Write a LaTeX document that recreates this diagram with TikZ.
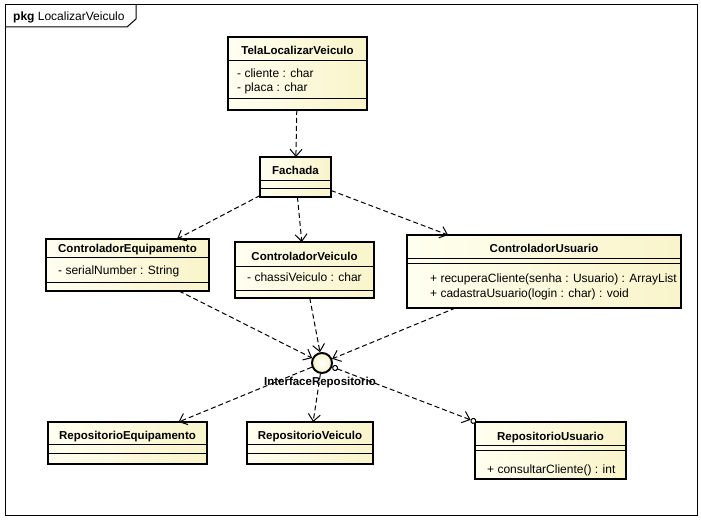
\documentclass[tikz,border=0pt]{standalone}
\usepackage{fontspec}
\setmainfont{Liberation Sans}
\usetikzlibrary{arrows.meta,calc}
\pgfdeclarelayer{bg}
\pgfsetlayers{bg,main}

\definecolor{clsL}{HTML}{FFFFF0}
\definecolor{clsR}{HTML}{F9F4CA}
\definecolor{boxshade}{HTML}{DADADA}
\definecolor{edgeshade}{HTML}{E2E2E2}

\tikzset{
  x=1pt, y=-1pt,
  cls/.style={rectangle, draw=black, line width=2pt, left color=clsL, right color=clsR,
    inner sep=0pt, outer sep=0pt},
  sep/.style={line width=1pt},
  title/.style={font=\bfseries\fontsize{11.5}{13}\selectfont, inner sep=0pt, anchor=base},
  member/.style={font=\fontsize{12}{14}\selectfont, inner sep=0pt, anchor=base west},
  vtip/.tip={Straight Barb[length=7pt,width=12pt,line width=1pt]},
  dep/.style={dash pattern=on 5pt off 3pt, line width=1pt, -vtip},
  depshadow/.style={edgeshade, line width=1pt, -vtip, transform canvas={shift={(3pt,-4pt)}}},
}

% class box: name, left, top, right, bottom (with drop shadow)
\newcommand{\umlclass}[5]{%
  \node[cls, minimum width={#4-#2}, minimum height={#5-#3}] (#1) at ({(#2+#4)/2},{(#3+#5)/2}) {};
  \begin{pgfonlayer}{bg}
    \fill[boxshade] ($(#1.north west)+(5,5)$) rectangle ($(#1.south east)+(5,5)$);
  \end{pgfonlayer}}
% compartment separator of a class box at height #2
\newcommand{\compline}[2]{\draw[sep] (#1.west |- 0,#2) -- (#1.east |- 0,#2);}

\begin{document}
\begin{tikzpicture}
\useasboundingbox (0,0) rectangle (701,521);
\fill[white] (0,0) rectangle (701,521);

% package frame
\draw[line width=1pt] (5,5) rectangle (697,515);
\draw[line width=1pt] (5,27) -- (127,27) -- (136,19) -- (136,5);
\node[member] (pkglabel) at (13,21) {\textbf{pkg} LocalizarVeiculo};

% classes
\umlclass{tela}{228}{37}{367}{110}
\compline{tela}{61}\compline{tela}{99}
\node[title] at (tela.north |- 0,55) {TelaLocalizarVeiculo};
\node[member] at (237,78) {- cliente : char};
\node[member] at (237,92) {- placa : char};

\umlclass{fachada}{260}{157}{331}{197}
\compline{fachada}{181}\compline{fachada}{189}
\node[title] at (fachada.north |- 0,175) {Fachada};

\umlclass{ce}{46}{239}{209}{291}
\compline{ce}{258}\compline{ce}{282}
\node[title] at (ce.north |- 0,253) {ControladorEquipamento};
\node[member] at (58,275) {- serialNumber : String};

\umlclass{cv}{235}{242}{374}{298}
\compline{cv}{267}\compline{cv}{290}
\node[title] at (cv.north |- 0,261) {ControladorVeiculo};
\node[member] at (247,282) {- chassiVeiculo : char};

\umlclass{cu}{407}{235}{681}{308}
\compline{cu}{259}\compline{cu}{264}
\node[title] at (cu.north |- 0,253) {ControladorUsuario};
\node[member] at (430,283) {+ recuperaCliente(senha : Usuario) : ArrayList};
\node[member] at (430,297) {+ cadastraUsuario(login : char) : void};

\umlclass{re}{48}{422}{207}{464}
\compline{re}{444}\compline{re}{453}
\node[title] at (re.north |- 0,439) {RepositorioEquipamento};

\umlclass{rv}{247}{422}{373}{464}
\compline{rv}{444}\compline{rv}{453}
\node[title] at (rv.north |- 0,439) {RepositorioVeiculo};

\umlclass{ru}{475}{422}{626}{479}
\compline{ru}{445}\compline{ru}{450}
\node[title] at (ru.north |- 0,440) {RepositorioUsuario};
\node[member] at (487,473) {+ consultarCliente() : int};

% interface (lollipop)
\node[circle, draw=black, line width=2pt, minimum size=20pt, inner sep=0pt,
      inner color=white, outer color=clsR] (iface) at (322,363) {};
\node[title] (ifacelabel) at (320,385) {InterfaceRepositorio};

% connector shadows
\begin{pgfonlayer}{bg}
  \draw[depshadow] (tela) -- (fachada);
  \draw[depshadow] (fachada) -- (ce);
  \draw[depshadow] (fachada) -- (cv);
  \draw[depshadow] (fachada) -- (cu);
  \draw[depshadow] (ce) -- (iface);
  \draw[depshadow] (cv) -- (iface);
  \draw[depshadow] (cu) -- (iface);
  \draw[depshadow] (iface) -- (re);
  \draw[depshadow] (iface) -- (rv);
  \draw[depshadow] (iface) -- (ru);
\end{pgfonlayer}

% dependencies
\draw[dep] (tela) -- (fachada);
\draw[dep] (fachada) -- (ce);
\draw[dep] (fachada) -- (cv);
\draw[dep] (fachada) -- (cu);
\draw[dep] (ce) -- (iface);
\draw[dep] (cv) -- (iface);
\draw[dep] (cu) -- (iface);
\draw[dep] (iface) -- (re);
\draw[dep] (iface) -- (rv);
\draw[dep, {Circle[fill=white,length=6pt,line width=1pt]}-{Straight Barb[length=7pt,width=12pt,line width=1pt] Circle[fill=white,length=6pt,line width=1pt]}] (iface) -- (ru);
\end{tikzpicture}
\end{document}
